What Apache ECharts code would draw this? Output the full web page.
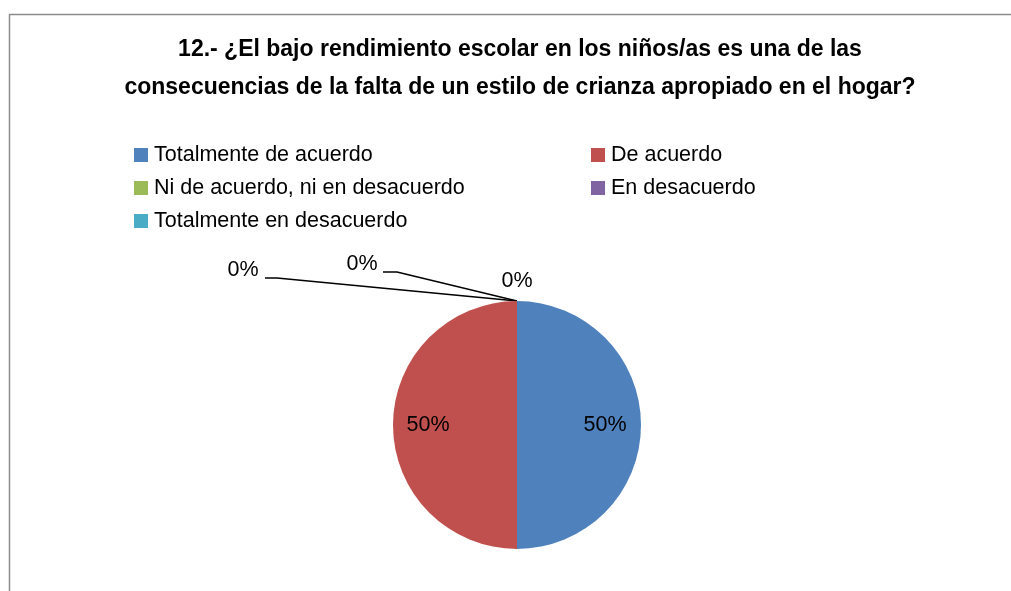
<!DOCTYPE html>
<html>
<head>
<meta charset="utf-8">
<script src="https://cdn.jsdelivr.net/npm/echarts@6/dist/echarts.min.js"></script>
<style>
  html, body { margin: 0; padding: 0; background: #fff; }
  #chart { width: 1011px; height: 591px; }
</style>
</head>
<body>
<div id="chart"></div>
<script>
  // datos
  var categories = ['Totalmente de acuerdo', 'De acuerdo', 'Ni de acuerdo, ni en desacuerdo', 'En desacuerdo', 'Totalmente en desacuerdo']
  var values = [50, 50, 0, 0, 0]
  var colors = ['#4F81BD', '#C0504D', '#9BBB59', '#8064A2', '#4BACC6']
  var titleText = '12.- ¿El bajo rendimiento escolar en los niños/as es una de las\nconsecuencias de la falta de un estilo de crianza apropiado en el hogar?'

  // posicion de la tarta y de las etiquetas
  var cx = 517, cy = 425, R = 124
  var labelPos = [
    { x: cx + 88, y: cy },
    { x: cx - 89, y: cy },
    { x: cx, y: 281 },
    { x: 362, y: 264, line: [[cx, cy - R], [397, 272], [383, 272]] },
    { x: 243, y: 270, line: [[cx, cy - R], [277, 278], [265, 278]] }
  ]

  var font = '"Liberation Sans", Arial, sans-serif'
  var legendText = { fontFamily: font, fontSize: 21.5, lineHeight: 22, color: '#000', padding: [0, 0, 0, 1] }

  var chart = echarts.init(document.getElementById('chart'))
  var option = {
    backgroundColor: '#fff',
    animation: false,
    color: colors,
    title: {
      text: titleText,
      left: 515,
      textAlign: 'center',
      top: 26,
      textStyle: {
        fontFamily: font,
        fontWeight: 'bold',
        fontSize: 23,
        lineHeight: 38,
        color: '#000'
      }
    },
    graphic: [{
      type: 'rect',
      shape: { x: 9.5, y: 14.5, width: 1100, height: 700 },
      style: { fill: 'none', stroke: '#8c8c8c', lineWidth: 1.5 },
      silent: true
    }],
    legend: [{
      orient: 'vertical',
      left: 134,
      top: 144,
      padding: 0,
      icon: 'rect',
      itemWidth: 14,
      itemHeight: 14,
      itemGap: 11,
      textStyle: legendText,
      data: [categories[0], categories[2], categories[4]]
    }, {
      orient: 'vertical',
      left: 591,
      top: 144,
      padding: 0,
      icon: 'rect',
      itemWidth: 14,
      itemHeight: 14,
      itemGap: 11,
      textStyle: legendText,
      data: [categories[1], categories[3]]
    }],
    series: [{
      type: 'pie',
      center: [cx, cy],
      radius: [0, R],
      startAngle: 90,
      clockwise: true,
      avoidLabelOverlap: false,
      label: {
        show: true,
        fontFamily: font,
        fontSize: 21.5,
        color: '#000',
        formatter: function (p) { return Math.round(p.percent) + '%' }
      },
      labelLine: {
        show: true,
        lineStyle: { color: '#000', width: 1.5 }
      },
      labelLayout: function (params) {
        var pos = labelPos[params.dataIndex]
        var res = { x: pos.x, y: pos.y, align: 'center', verticalAlign: 'middle' }
        if (pos.line) res.labelLinePoints = pos.line
        return res
      },
      data: categories.map(function (name, i) {
        var item = { name: name, value: values[i] }
        if (!labelPos[i].line) item.labelLine = { show: false }
        return item
      })
    }]
  }
  chart.setOption(option)
  window.addEventListener('resize', function () {
    chart.resize()
  })
</script>
</body>
</html>
